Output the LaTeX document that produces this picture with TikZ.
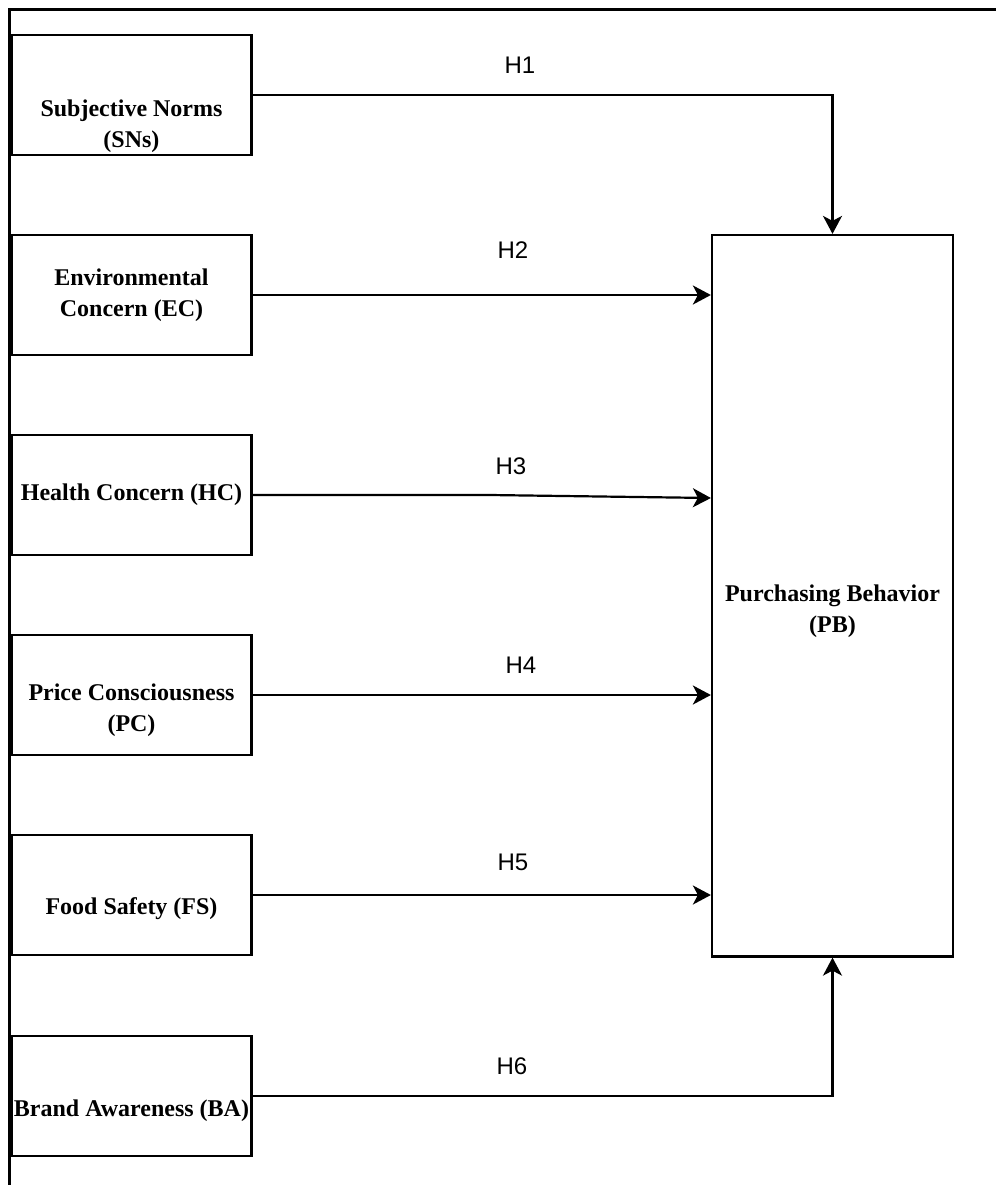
\documentclass[tikz,border=0pt]{standalone}
\usepackage{fontspec}
\setmainfont{Liberation Serif}
\newfontfamily\hfont{Liberation Sans}
\usetikzlibrary{arrows.meta}

\tikzset{
factor/.style={draw,line width=1.1pt,minimum width=120pt,minimum height=60pt,inner sep=0pt},
ftext/.style={font=\fontsize{12}{15.5}\selectfont\bfseries,align=center,inner sep=0pt},
hlabel/.style={font=\hfont\fontsize{12}{14}\selectfont,inner sep=0pt},
arr/.style={line width=1.1pt,-{Stealth[length=9pt,width=9.5pt,inset=2.5pt]}}
}

\begin{document}
\begin{tikzpicture}[x=0.5pt,y=-0.5pt]
\useasboundingbox (0,0) rectangle (996,1185);
{
\draw[line width=1.1pt] (9.5,1185)--(9.5,9.5)--(996,9.5);
%
\foreach \n/\y/\s/\t in {sn/95/15.5pt/{Subjective Norms\\(SNs)},
ec/295/0pt/{Environmental\\Concern (EC)},
hc/495/0pt/{Health Concern (HC)},
pc/695/7.5pt/{Price Consciousness\\(PC)},
fs/895/7pt/{Food Safety (FS)},
ba/1096/7.5pt/{Brand Awareness (BA)}}{
\node[factor] (\n) at (131.5,\y) {};
\node[ftext] (\n-t) at ([yshift=-\s]\n.center) {\t};
}
\node[factor,minimum width=120.5pt,minimum height=360.75pt] (pb) at (832.5,595.75) {};
\node[ftext] (pb-t) at ([yshift=-7.5pt]pb.center) {Purchasing Behavior\\(PB)};
%
\foreach \h/\x/\y in {1/520/65,2/513/250,3/511/466,4/521/665,5/513/862,6/512/1066}{
\node[hlabel] (h\h) at (\x,\y) {H\h};
}
\coordinate (hcbend) at (490,495);
\draw[arr] (sn.east) -| (pb.north);
\draw[arr] (ec.east) -- (ec.east -| pb.west);
\draw[arr] (hc.east) -- (hcbend) -- ([yshift=-1.5pt]hc.east -| pb.west);
\draw[arr] (pc.east) -- (pc.east -| pb.west);
\draw[arr] (fs.east) -- (fs.east -| pb.west);
\draw[arr] (ba.east) -| (pb.south);
}
\end{tikzpicture}
\end{document}
